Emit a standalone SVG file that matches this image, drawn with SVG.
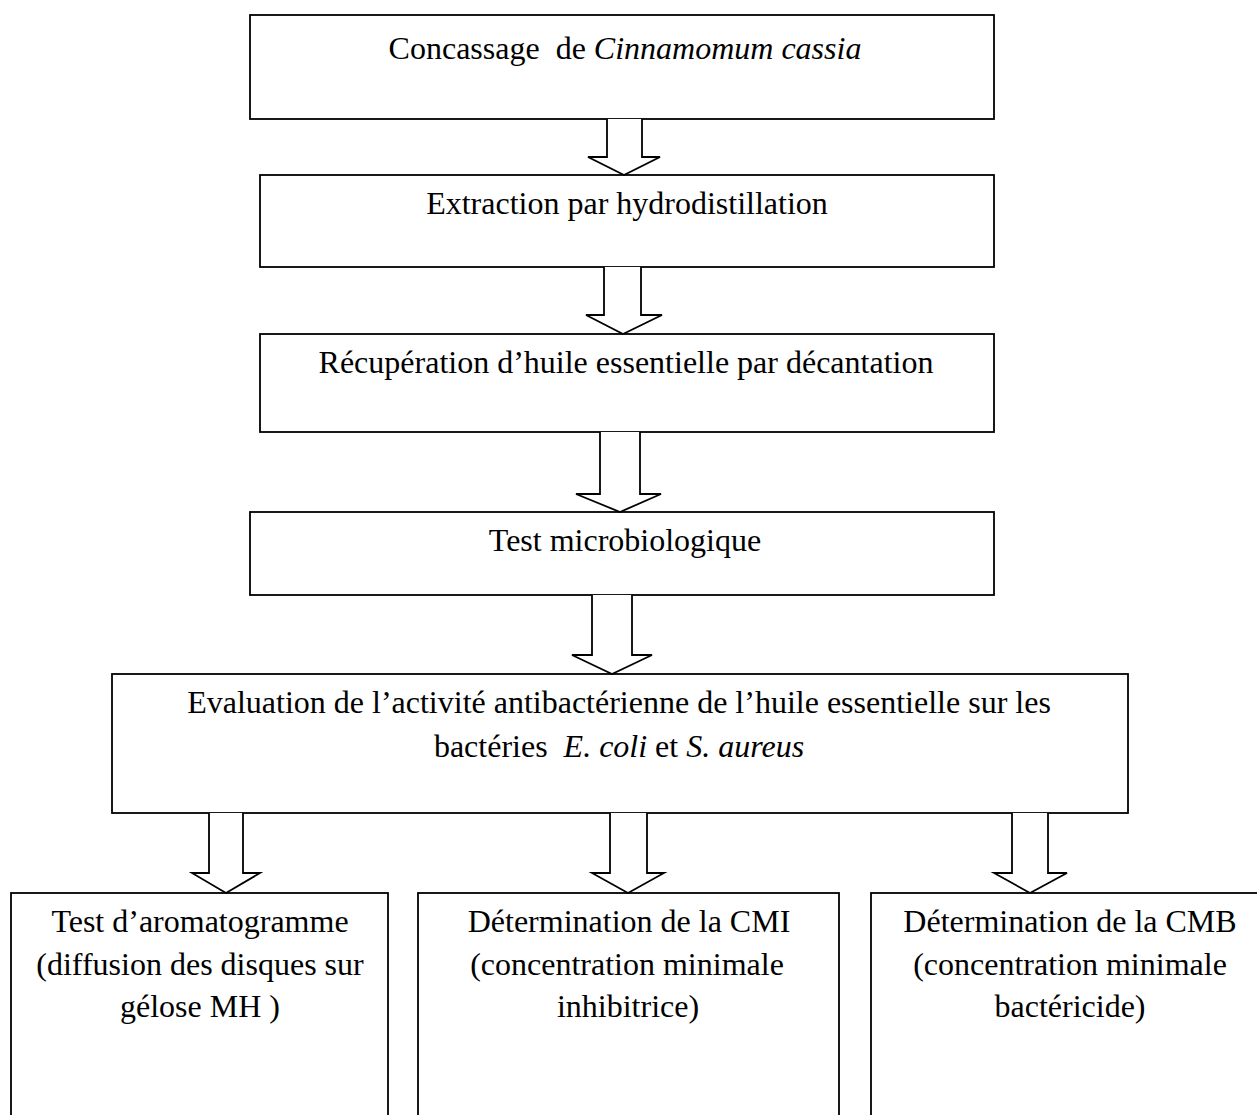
<svg xmlns="http://www.w3.org/2000/svg" width="1257" height="1115" viewBox="0 0 1257 1115">
<style>
.box{fill:#ffffff;stroke:#000000;stroke-width:1.8}
.arr{fill:#ffffff;stroke:#000000;stroke-width:1.8;stroke-linejoin:miter}
text{font-family:"Liberation Serif","Times New Roman",serif;font-size:32px;fill:#000000;white-space:pre}
.c{text-anchor:middle}
.i{font-style:italic}
</style>
<rect width="1257" height="1115" fill="#ffffff"/>
<g id="n1"><rect class="box" x="250" y="15" width="744" height="104"/><text class="c" x="625" y="59">Concassage  de <tspan class="i">Cinnamomum cassia</tspan></text></g>
<g id="n2"><rect class="box" x="260" y="175" width="734" height="92"/><text class="c" x="627" y="214">Extraction par hydrodistillation</text></g>
<g id="n3"><rect class="box" x="260" y="334" width="734" height="98"/><text class="c" x="626" y="373">Récupération d’huile essentielle par décantation</text></g>
<g id="n4"><rect class="box" x="250" y="512" width="744" height="83"/><text class="c" x="625" y="551">Test microbiologique</text></g>
<g id="n5"><rect class="box" x="112" y="674" width="1016" height="139"/><text class="c" x="619" y="713">Evaluation de l’activité antibactérienne de l’huile essentielle sur les</text><text class="c" x="619" y="757">bactéries  <tspan class="i">E. coli</tspan> et <tspan class="i">S. aureus</tspan></text></g>
<g id="n6"><rect class="box" x="11" y="893" width="377" height="240"/><text class="c" x="200" y="932">Test d’aromatogramme</text><text class="c" x="200" y="975">(diffusion des disques sur</text><text class="c" x="200" y="1017">gélose MH )</text></g>
<g id="n7"><rect class="box" x="418" y="893" width="421" height="240"/><text class="c" x="629" y="932">Détermination de la CMI</text><text class="c" x="627" y="975">(concentration minimale</text><text class="c" x="628" y="1017">inhibitrice)</text></g>
<g id="n8"><rect class="box" x="871" y="893" width="420" height="240"/><text class="c" x="1070" y="932">Détermination de la CMB</text><text class="c" x="1070" y="975">(concentration minimale</text><text class="c" x="1070" y="1017">bactéricide)</text></g>
<g id="connectors">
<polyline class="arr" points="607,119 607,157 588,157 624,175 660,157 642,157 642,119"/>
<polyline class="arr" points="604,267 604,315 586,315 623,334 662,315 641,315 641,267"/>
<polyline class="arr" points="600,432 600,494 576,494 620,512 661,494 640,494 640,432"/>
<polyline class="arr" points="592,595 592,655 572,655 612,674 652,655 632,655 632,595"/>
<polyline class="arr" points="209,813 209,873 192,873 226,893 260,873 243,873 243,813"/>
<polyline class="arr" points="610,813 610,873 592,873 628,893 664,873 647,873 647,813"/>
<polyline class="arr" points="1012,813 1012,873 994,873 1030,893 1067,873 1048,873 1048,813"/>
</g>
</svg>
